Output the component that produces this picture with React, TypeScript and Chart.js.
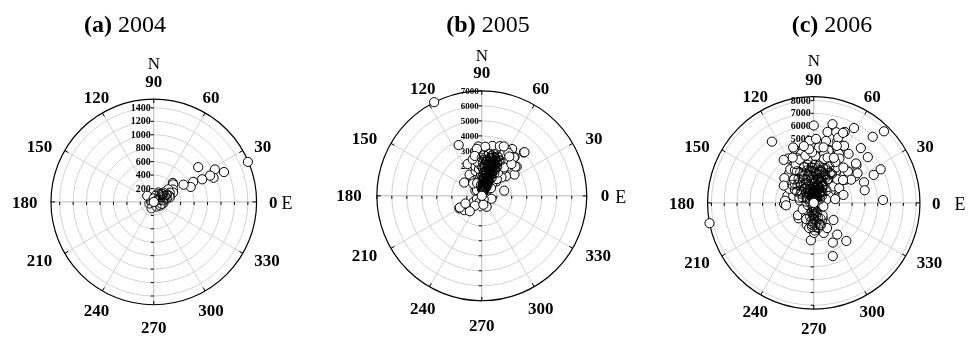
import { useEffect, useRef } from "react";
import { Chart, registerables } from "chart.js";

Chart.register(...registerables);

// ---------- data ----------
const DIRECTION_LABELS = [0, 30, 60, 90, 120, 150, 180, 210, 240, 270, 300, 330];

const TICKS_2004 = [0, 200, 400, 600, 800, 1000, 1200, 1400];
const RMAX_2004 = 1530;
const RADIUS_2004 = [1522, 1135, 1029, 960, 925, 839, 795, 658, 593, 512, 400, 389, 340, 319, 285, 275, 249, 223, 200, 188, 155, 150, 144, 134, 133, 121, 94, 53];
const ANGLE_2004 = [23, 23, 28, 22, 25, 38, 25, 27, 22, 30, 45, 42, 33, 26, 41, 30, 16, 31, 44, 29, 64, 37, 354, 59, 137, 346, 75, 90];
const RADIUS_2004_CORE = [60, 90, 120, 160, 180, 220, 250, 110, 80, 140, 200, 70, 100, 130, 170];
const ANGLE_2004_CORE = [30, 20, 35, 25, 40, 28, 22, 330, 300, 10, 15, 200, 250, 50, 45];

const TICKS_2005 = [0, 1000, 2000, 3000, 4000, 5000, 6000, 7000];
const RMAX_2005 = 7000;
const RADIUS_2005 = [7000, 3717, 2320, 1630, 4025, 3715, 3455, 3390, 3035, 2600, 1535, 1715, 1510, 1150, 670, 375, 795, 670, 550, 695, 3020, 3150, 2920, 3280, 3480, 4070, 3325, 2970, 1470, 1120, 1945, 2505, 2760, 2755, 2595, 1920, 1325, 790, 400, 1535, 2395, 1320, 2050, 2320, 2070, 1140, 1710, 2325, 1710, 2225, 1525, 2205, 2590, 2930, 600, 900, 1000, 1250, 1400, 1600, 1800, 1900, 2100, 2200, 2450, 2600, 2800, 2700, 850, 1100, 1300, 1700, 2000, 300, 500, 1000, 1350, 1800, 450, 800, 1300, 250, 600, 1657, 1205,
  300, 450, 520, 650, 700, 780, 820, 900, 950, 1020, 1080, 1150, 1200, 1260, 1330, 1380, 1450, 1480, 1550, 1580, 1650, 1690, 1750, 1780, 1850, 1870, 1950, 1980, 2030, 2080, 2150, 2180, 2240, 2280, 2350, 2380, 2420, 2480, 2520, 2560, 2620, 2660, 2720, 2750, 2820, 2860, 2900, 2950, 3000, 3060, 3100, 3180, 3230, 3300, 3350, 3400, 3520, 3600, 3280, 3150, 1000, 1200, 1400, 1600, 1800, 2100, 2300, 2500, 2700, 900, 700, 500, 1100, 1500, 1900, 2400, 2900, 3200, 600, 800];
const ANGLE_2005 = [117, 114.5, 114, 120, 45.8, 57, 64.7, 49.8, 39.8, 33, 13, 209, 219, 226.6, 217, 211, 294, 343, 141, 108, 88, 82, 77, 69, 62, 45.6, 50, 41, 143, 118.5, 90, 82.6, 69.6, 59.6, 48.6, 52, 55.5, 57, 58, 98, 97.7, 80.8, 71.7, 62.4, 39, 73.6, 71.8, 68.5, 55.7, 51.2, 86, 78.8, 90, 83.7, 70, 65, 78, 68, 62, 76, 65, 80, 60, 74, 66, 76, 63, 85, 85, 92, 100, 104, 102, 100, 130, 125, 45, 43, 250, 235, 232, 300, 280, 208, 205,
  75, 68, 80, 72, 62, 77, 66, 74, 82, 70, 60, 79, 66, 74, 84, 71, 58, 77, 67, 73, 82, 63, 70, 78, 59, 74, 68, 81, 64, 76, 70, 86, 61, 73, 79, 66, 88, 71, 62, 81, 68, 74, 58, 79, 70, 88, 66, 75, 92, 71, 63, 80, 73, 94, 58, 78, 70, 66, 86, 96, 88, 95, 92, 89, 96, 94, 98, 104, 100, 110, 95, 90, 50, 48, 55, 52, 47, 55, 45, 40];
const RADIUS_2005_CORE = [
  310, 380, 460, 540, 610, 690, 760, 830, 880, 960, 1030, 1090, 1170, 1230, 1290, 1360, 1420, 1490, 1560, 1620, 1680, 1740, 1810, 1880, 1930, 2000, 2060, 2120, 2190, 2260, 2310, 2370, 2440, 2510, 2570, 2640, 2690, 2760, 2830, 2880,
  2850, 2780, 2710, 2650, 2580, 2530, 2460, 2400, 2330, 2270, 2210, 2140, 2090, 2020, 1960, 1900, 1840, 1770, 1710, 1650, 1600, 1530, 1470, 1400, 1340, 1280, 1210, 1150, 1090, 1030, 970, 910, 850, 790, 730, 660, 590, 520, 450, 380,
  420, 560, 720, 870, 1010, 1180, 1320, 1460, 1610, 1770, 1920, 2080, 2230, 2390, 2540, 2700];
const ANGLE_2005_CORE = [
  72, 66, 79, 70, 63, 75, 81, 68, 73, 64, 77, 70, 82, 67, 74, 61, 78, 69, 72, 65, 80, 71, 66, 76, 63, 73, 79, 68, 62, 75, 70, 83, 66, 72, 78, 64, 71, 76, 68, 74,
  80, 67, 73, 62, 77, 70, 65, 82, 71, 68, 75, 63, 79, 72, 66, 84, 69, 74, 61, 78, 71, 67, 80, 73, 64, 76, 70, 83, 66, 72, 79, 68, 74, 62, 77, 71, 65, 80, 69, 75,
  85, 83, 86, 84, 87, 85, 88, 86, 84, 87, 89, 85, 88, 86, 90, 87];

const TICKS_2006 = [0, 1000, 2000, 3000, 4000, 5000, 6000, 7000, 8000];
const RMAX_2006 = 8300;
const RADIUS_2006 = [6040, 6310, 5640, 5785, 6040, 6630, 6915, 7830, 5790, 4845, 4210, 4485, 4650, 4925, 5170, 4975, 4300, 4300, 4695, 5640, 5535, 5850, 5165, 4245, 4100, 5420, 2075, 4455, 3655, 3830, 3065, 2885, 3450, 2925, 2320, 2135, 1690, 1800, 1400, 8300, 4410, 3910, 3435, 3075, 2470, 2930, 2340, 1995, 2220, 2040, 1560, 2250, 2175, 1700, 3005, 4615, 3950, 3360, 4345, 4235, 5430, 5045, 5920, 4510, 3615, 4130, 3435, 2185, 2605, 3800, 3600, 3500, 3300, 3200, 3100, 3000, 2900, 2800, 2700, 2600, 2500, 2400, 2300, 2200, 2100, 2000, 1900, 1800, 1700, 1600, 1500, 1400, 1300, 1200, 1100, 1000, 900, 800, 700, 600, 500, 400, 300, 1500, 2000, 2500, 3000, 2800, 3400, 1000, 1300, 1600, 800, 1200, 1900, 700, 2600, 3200, 3700, 4000, 4000, 3900, 2200, 1100,
  200, 350, 420, 500, 560, 620, 680, 740, 800, 850, 900, 950, 1000, 1050, 1100, 1150, 1200, 1250, 1300, 1350, 1400, 1450, 1500, 1550, 1600, 1650, 1700, 1750, 1800, 1850, 1900, 1950, 2000, 2050, 2100, 2150, 2200, 2250, 2300, 2350, 2400, 2450, 2500, 2550, 2600, 2650, 2700, 2750, 2800, 2850, 2900, 2950, 3000, 3050, 3100, 3150, 3200, 3250, 3300, 3350, 3400, 3450, 3500, 3550, 3600, 3650, 3700, 3750, 3850, 3950, 600, 900, 1100, 1300, 1500, 1700, 800, 1000, 700, 1200, 1400, 1800, 500, 600, 900, 1200, 1500, 1800, 2100, 2400, 1600, 2000, 2300, 2600, 2900, 1300, 1000, 1700, 2400, 500, 800, 3600, 4200, 4400, 4500, 4800, 5000, 3900, 4100, 3000, 2700];
const ANGLE_2006 = [90, 76.6, 79, 72.3, 66.4, 61.7, 48.2, 45.5, 124.4, 94, 104.5, 110, 84.4, 78.8, 69.2, 63.6, 73.7, 62.9, 54.6, 49.3, 40.2, 26.6, 25, 22.3, 13.9, 2.4, 19, 41.4, 41.9, 32.6, 36.3, 53.5, 117, 131.5, 181.9, 165, 225.5, 252, 300, 191, 289.7, 310.6, 295.7, 306.6, 288.4, 265.6, 270.6, 259.7, 297.8, 319, 218, 175.6, 185, 161, 129.5, 110.4, 104.4, 113.9, 84.7, 74.2, 69.4, 62, 67.3, 43, 42.5, 34.1, 31.8, 29, 57.2, 95, 85, 75, 100, 65, 90, 80, 108, 70, 95, 120, 85, 100, 75, 110, 65, 90, 130, 80, 100, 60, 115, 85, 140, 70, 95, 50, 120, 80, 160, 100, 60, 200, 90, 45, 50, 45, 55, 118, 88, 250, 270, 280, 300, 240, 275, 320, 140, 125, 110, 60, 120, 78, 150, 170,
  80, 60, 110, 85, 70, 130, 95, 55, 105, 75, 88, 65, 115, 80, 58, 98, 72, 125, 86, 62, 104, 78, 92, 68, 118, 83, 55, 97, 73, 108, 64, 88, 122, 76, 100, 59, 84, 113, 69, 93, 78, 127, 62, 104, 82, 71, 112, 88, 60, 97, 76, 120, 67, 85, 105, 72, 93, 58, 80, 115, 68, 98, 77, 108, 62, 88, 73, 100, 66, 92, 250, 265, 285, 255, 295, 265, 230, 210, 290, 305, 245, 285, 200, 170, 150, 160, 140, 145, 135, 130, 35, 40, 30, 45, 38, 25, 15, 10, 15, 330, 340, 50, 95, 80, 100, 68, 88, 115, 125, 140, 150];
const RADIUS_2006_CORE = [
  250, 330, 410, 480, 560, 630, 700, 770, 840, 910, 980, 1050, 1120, 1190, 1260, 1330, 1400, 1470, 1540, 1610, 1680, 1750, 1820, 1890, 1960, 2030, 2100, 2170, 2240, 2310, 2380, 2450, 2520, 2590, 2660, 2730, 2800, 2870, 2940, 3010,
  3080, 2990, 2910, 2830, 2760, 2680, 2610, 2530, 2460, 2380, 2310, 2230, 2160, 2080, 2010, 1930, 1860, 1780, 1710, 1630, 1560, 1480, 1410, 1330, 1260, 1180, 1110, 1030, 960, 880, 810, 730, 660, 580, 510, 430, 360, 280, 210, 150,
  300, 380, 460, 540, 620, 700, 780, 860, 940, 1020, 1100, 1180, 1260, 1340, 1420, 1500, 1580, 1660, 1740, 1820, 1900, 2000, 2150, 400, 700, 1000, 1300, 1600, 1900, 2200, 500, 800, 1100, 1400, 350, 650, 950, 1250, 550, 850];
const ANGLE_2006_CORE = [
  85, 72, 98, 78, 105, 66, 90, 115, 74, 95, 62, 83, 108, 70, 92, 120, 77, 64, 100, 86, 112, 69, 94, 80, 125, 73, 60, 97, 84, 110, 68, 89, 76, 102, 58, 91, 118, 71, 82, 99,
  67, 88, 105, 75, 93, 61, 114, 80, 96, 70, 86, 122, 65, 101, 78, 90, 108, 73, 84, 128, 63, 95, 79, 111, 69, 87, 103, 76, 92, 59, 117, 81, 98, 71, 106, 85, 64, 100, 78, 90,
  250, 262, 275, 268, 283, 258, 290, 272, 265, 280, 255, 286, 270, 293, 262, 278, 268, 284, 274, 288, 266, 280, 272, 135, 142, 128, 138, 146, 132, 140, 55, 48, 52, 45, 160, 150, 155, 145, 30, 40];

// last point of each year (drawn on top): at the origin
const LAST_RADIUS = [0];
const LAST_ANGLE = [0];

// ---------- layout (per panel) ----------
const W = 323;
const H = 341;
const SERIF = "'Liberation Serif', 'DejaVu Serif', serif";

type Panel = {
  letter: string;
  year: string;
  ticks: number[];
  rmax: number;
  radius: number[];
  angle: number[];
  coreRadius: number[];
  coreAngle: number[];
  left: number;
  cx: number;
  cy: number;
  R: number;
  titleX: number;
  gap: number;
  bottomGap: number;
  nGap: number;
  eGap: number;
  tickFont: number;
};

const PANELS: Panel[] = [
  { letter: "(a)", year: "2004", ticks: TICKS_2004, rmax: RMAX_2004, radius: RADIUS_2004, angle: ANGLE_2004, coreRadius: RADIUS_2004_CORE, coreAngle: ANGLE_2004_CORE, left: 0, cx: 153.5, cy: 203, R: 106.5, titleX: 125, gap: 7.5, bottomGap: 15, nGap: 19, eGap: 18, tickFont: 10 },
  { letter: "(b)", year: "2005", ticks: TICKS_2005, rmax: RMAX_2005, radius: RADIUS_2005, angle: ANGLE_2005, coreRadius: RADIUS_2005_CORE, coreAngle: ANGLE_2005_CORE, left: 323, cx: 158.7, cy: 196.7, R: 108.7, titleX: 165, gap: 9, bottomGap: 16, nGap: 17, eGap: 20, tickFont: 9 },
  { letter: "(c)", year: "2006", ticks: TICKS_2006, rmax: RMAX_2006, radius: RADIUS_2006, angle: ANGLE_2006, coreRadius: RADIUS_2006_CORE, coreAngle: ANGLE_2006_CORE, left: 646, cx: 168, cy: 204, R: 110, titleX: 186, gap: 7, bottomGap: 12, nGap: 20, eGap: 28, tickFont: 10 },
];

const LABEL_PX = 17;

const polarPlugin = {
  id: "polarFrame",
  beforeDatasetsDraw(chart: any, _args: any, opts: any) {
    const p: Panel = opts.panel;
    const ctx: CanvasRenderingContext2D = chart.ctx;
    const xs = chart.scales.x;
    const ys = chart.scales.y;
    const cx = xs.getPixelForValue(0);
    const cy = ys.getPixelForValue(0);
    const rp = (v: number) => xs.getPixelForValue(v) - cx;
    const R = rp(p.rmax);
    ctx.save();
    ctx.strokeStyle = "#d2d2d2";
    ctx.lineWidth = 1;
    for (const t of p.ticks) {
      if (t <= 0 || t >= p.rmax) continue;
      ctx.beginPath();
      ctx.arc(cx, cy, rp(t), 0, Math.PI * 2);
      ctx.stroke();
    }
    for (const a of DIRECTION_LABELS) {
      const rad = (a * Math.PI) / 180;
      ctx.beginPath();
      ctx.moveTo(cx, cy);
      ctx.lineTo(xs.getPixelForValue(p.rmax * Math.cos(rad)), ys.getPixelForValue(p.rmax * Math.sin(rad)));
      ctx.strokeStyle = a % 90 === 0 ? "#b8b8b8" : "#d2d2d2";
      ctx.stroke();
    }
    ctx.strokeStyle = "#000";
    ctx.lineWidth = 1.2;
    ctx.beginPath();
    ctx.arc(cx, cy, R, 0, Math.PI * 2);
    ctx.stroke();
    ctx.lineWidth = 1;
    for (const a of DIRECTION_LABELS) {
      const rad = (a * Math.PI) / 180;
      const c = Math.cos(rad), s = Math.sin(rad);
      ctx.beginPath();
      ctx.moveTo(cx + (R - 4) * c, cy - (R - 4) * s);
      ctx.lineTo(cx + R * c, cy - R * s);
      ctx.stroke();
    }
    for (const t of p.ticks) {
      if (t <= 0) continue;
      const d = rp(t);
      ctx.beginPath();
      ctx.moveTo(cx + d, cy); ctx.lineTo(cx + d, cy + 3);
      ctx.moveTo(cx - d, cy); ctx.lineTo(cx - d, cy + 3);
      ctx.moveTo(cx, cy - d); ctx.lineTo(cx - 3, cy - d);
      ctx.moveTo(cx, cy + d); ctx.lineTo(cx - 3, cy + d);
      ctx.stroke();
    }
    ctx.fillStyle = "#000";
    ctx.font = `bold ${p.tickFont}px ${SERIF}`;
    ctx.textAlign = "right";
    ctx.textBaseline = "middle";
    for (const t of p.ticks) {
      ctx.fillText(String(t), cx - 3, cy - rp(t) + 0.5);
    }
    // direction labels
    ctx.font = `bold ${LABEL_PX}px ${SERIF}`;
    ctx.textBaseline = "alphabetic";
    const D = R + p.gap;
    const mid = LABEL_PX * 0.33;
    let zeroLeft = 0, nintyY = 0;
    for (const a of DIRECTION_LABELS) {
      const txt = String(a);
      const rad = (a * Math.PI) / 180;
      const c = Math.cos(rad), s = Math.sin(rad);
      let x: number, y: number;
      if (Math.abs(c) > 0.6) {
        ctx.textAlign = c > 0 ? "left" : "right";
        x = cx + D * c + (c > 0 ? 5 : -6);
        y = cy - D * s + (s < 0 ? 6 * Math.abs(s) : 0);
      } else {
        ctx.textAlign = "center";
        x = cx + D * c + (Math.abs(c) > 0.1 ? Math.sign(c) * 2 : 0);
        y = s > 0 ? cy - D * s - 10 * s : cy - D * s + p.bottomGap * Math.abs(s);
      }
      ctx.fillText(txt, x, y + mid);
      if (a === 0) zeroLeft = x;
      if (a === 90) nintyY = y;
    }
    ctx.textAlign = "center";
    ctx.font = `17px ${SERIF}`;
    ctx.fillText("N", cx, nintyY - p.nGap + 6);
    ctx.font = `18px ${SERIF}`;
    ctx.fillText("E", zeroLeft + p.eGap, cy + 7);
    // title
    ctx.textAlign = "left";
    ctx.font = `bold 24px ${SERIF}`;
    const b = ctx.measureText(p.letter + " ").width;
    ctx.font = `24px ${SERIF}`;
    const yw = ctx.measureText(p.year).width;
    const startX = p.titleX - (b + yw) / 2;
    ctx.font = `bold 24px ${SERIF}`;
    ctx.fillText(p.letter, startX, 32);
    ctx.font = `24px ${SERIF}`;
    ctx.fillText(p.year, startX + b, 32);
    ctx.restore();
  },
};

function toXY(radius: number[], angle: number[]) {
  return radius.map((r, i) => {
    const rad = (angle[i] * Math.PI) / 180;
    return { x: r * Math.cos(rad), y: r * Math.sin(rad) };
  });
}

const POINT_STYLE = {
  pointRadius: 4.6,
  pointHoverRadius: 4.6,
  borderWidth: 1,
  borderColor: "#000",
  clip: false as any,
};

function PolarPanel({ panel }: { panel: Panel }) {
  const ref = useRef<HTMLCanvasElement | null>(null);
  useEffect(() => {
    if (!ref.current) return;
    const p = panel;
    const k = p.rmax / p.R;
    const chart = new Chart(ref.current, {
      type: "scatter",
      data: {
        datasets: [
          // dataset 0 is drawn on top
          { ...POINT_STYLE, data: toXY(LAST_RADIUS, LAST_ANGLE), backgroundColor: "#fff" },
          { ...POINT_STYLE, data: toXY(p.coreRadius, p.coreAngle), backgroundColor: "rgba(255,255,255,0)", borderColor: "rgba(0,0,0,0.85)" },
          { ...POINT_STYLE, data: toXY(p.radius, p.angle), backgroundColor: "#fff" },
        ],
      },
      options: {
        responsive: false,
        animation: false,
        devicePixelRatio: 1,
        layout: { padding: 0 },
        events: [],
        scales: {
          x: { type: "linear", display: false, min: -p.cx * k, max: (W - p.cx) * k },
          y: { type: "linear", display: false, min: -(H - p.cy) * k, max: p.cy * k },
        },
        plugins: {
          legend: { display: false },
          tooltip: { enabled: false },
          polarFrame: { panel: p },
        } as any,
      },
      plugins: [polarPlugin],
    });
    return () => chart.destroy();
  }, [panel]);
  return (
    <canvas
      ref={ref}
      width={W}
      height={H}
      style={{ position: "absolute", left: panel.left, top: 0, width: W, height: H }}
    />
  );
}

export default function App() {
  return (
    <div style={{ position: "absolute", left: 0, top: 0, width: 969, height: 341, background: "#fff" }}>
      {PANELS.map((p) => (
        <PolarPanel key={p.letter} panel={p} />
      ))}
    </div>
  );
}
